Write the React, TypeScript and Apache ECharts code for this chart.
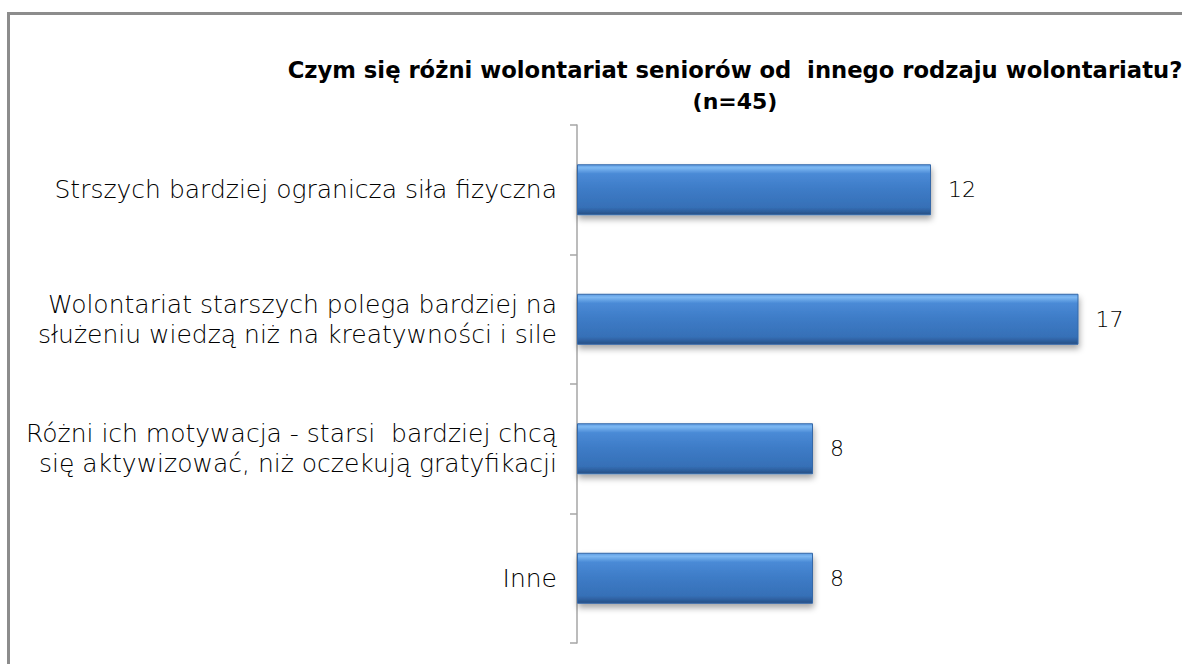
import React, { useEffect, useRef } from "react";
import * as echarts from "echarts";

const categories: string[] = [
  "Strszych bardziej ogranicza siła fizyczna",
  "Wolontariat starszych polega bardziej na\nsłużeniu wiedzą niż na kreatywności i sile",
  "Różni ich motywacja - starsi  bardziej chcą\nsię aktywizować, niż oczekują gratyfikacji",
  "Inne",
];
const values: number[] = [12, 17, 8, 8];
const titleLines: string[] = [
  "Czym się różni wolontariat seniorów od  innego rodzaju wolontariatu?",
  "(n=45)",
];

const FONT = "'DejaVu Sans', 'Noto Sans', sans-serif";

export default function App() {
  const ref = useRef<HTMLDivElement>(null);
  useEffect(() => {
    if (!ref.current) return;
    const chart = echarts.init(ref.current, undefined, { renderer: "svg" });
    const barColor = new echarts.graphic.LinearGradient(0, 0, 0, 1, [
      { offset: 0, color: "#5d9be2" },
      { offset: 0.06, color: "#7db8f2" },
      { offset: 0.18, color: "#4a8ad6" },
      { offset: 0.5, color: "#3d7bc6" },
      { offset: 0.85, color: "#3670b7" },
      { offset: 0.93, color: "#2d5f9e" },
      { offset: 1, color: "#284f82" },
    ]);
    chart.setOption({
      animation: false,
      backgroundColor: "#ffffff",
      graphic: [
        {
          type: "rect",
          shape: { x: 8.5, y: 13.5, width: 1300, height: 800 },
          style: { fill: "none", stroke: "#8c8c8c", lineWidth: 3 },
          silent: true,
        },
        {
          type: "text",
          x: 735,
          y: 70,
          style: {
            text: titleLines[0],
            font: `bold 22.7px ${FONT}`,
            fill: "#000000",
            textAlign: "center",
            textVerticalAlign: "middle",
          },
        },
        {
          type: "text",
          x: 735,
          y: 101,
          style: {
            text: titleLines[1],
            font: `bold 22px ${FONT}`,
            fill: "#000000",
            textAlign: "center",
            textVerticalAlign: "middle",
          },
        },
      ],
      grid: { left: 577, top: 125, width: 590, height: 518, containLabel: false },
      xAxis: {
        type: "value",
        min: 0,
        max: 20,
        show: false,
      },
      yAxis: {
        type: "category",
        data: categories,
        inverse: true,
        axisLine: { show: true, lineStyle: { color: "#a6a6a6", width: 1.5 } },
        axisTick: { show: true, length: 7, lineStyle: { color: "#a6a6a6", width: 1.5 } },
        axisLabel: {
          margin: 20,
          fontSize: 25,
          fontFamily: FONT,
          fontWeight: 200,
          color: "#000000",
          lineHeight: 30,
          align: "right",
        },
        splitLine: { show: false },
      },
      series: [
        {
          type: "bar",
          data: values,
          barWidth: 51,
          itemStyle: {
            color: barColor,
            borderColor: "#3568a8",
            borderWidth: 1,
            shadowColor: "rgba(0,0,0,0.35)",
            shadowBlur: 6,
            shadowOffsetY: 4,
            shadowOffsetX: 1,
          },
          label: {
            show: true,
            position: "right",
            distance: 17,
            fontSize: 22,
            fontFamily: FONT,
            fontWeight: 200,
            color: "#000000",
          },
        },
      ],
    });
    return () => chart.dispose();
  }, []);
  return (
    <div
      ref={ref}
      style={{ position: "fixed", left: 0, top: 0, width: 1182, height: 664 }}
    />
  );
}
